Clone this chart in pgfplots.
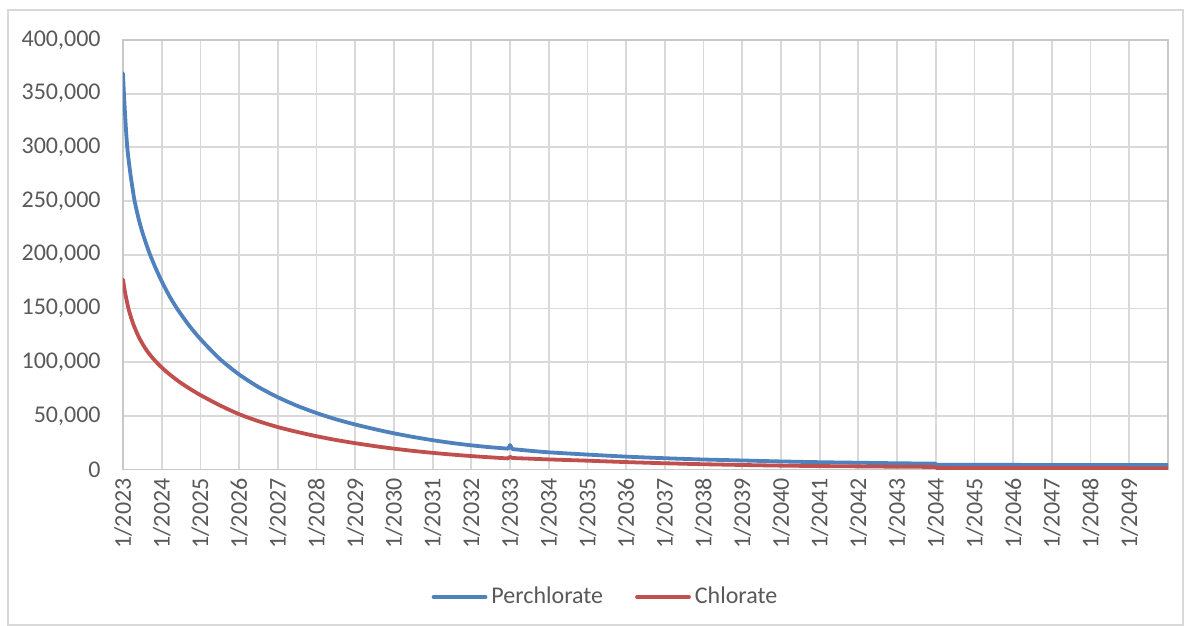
\documentclass[border=0pt]{standalone}
\usepackage{fontspec}
\setmainfont{Carlito}
\usepackage{pgfplots}
\pgfplotsset{compat=1.18}
\definecolor{perblue}{HTML}{4F81BD}
\definecolor{chlred}{HTML}{C0504D}
\definecolor{gridgray}{HTML}{D9D9D9}
\definecolor{axisgray}{HTML}{C8C8C8}
\definecolor{txtgray}{HTML}{595959}
\begin{document}
\begin{tikzpicture}
\useasboundingbox (0,0) rectangle (592.5pt,313pt);
\draw[gridgray, line width=0.8pt] (4pt,0.5pt) rectangle (591.5pt,308pt);
\begin{axis}[
  at={(61.5pt,78.25pt)}, anchor=south west,
  scale only axis, width=522.5pt, height=214.75pt,
  xmin=0, xmax=27, ymin=0, ymax=400000,
  xtick={0,...,26},
  xticklabels={1/2023,1/2024,1/2025,1/2026,1/2027,1/2028,1/2029,1/2030,1/2031,1/2032,1/2033,1/2034,1/2035,1/2036,1/2037,1/2038,1/2039,1/2040,1/2041,1/2042,1/2043,1/2044,1/2045,1/2046,1/2047,1/2048,1/2049},
  ytick={0,50000,100000,150000,200000,250000,300000,350000,400000},
  scaled y ticks=false,
  yticklabel={\pgfmathprintnumber[fixed, precision=0, 1000 sep={,}, assume math mode=true]{\tick}},
  major tick length=0pt,
  grid=major,
  major grid style={draw=gridgray, line width=0.9pt},
  axis line style={draw=axisgray, line width=0.9pt},
  tick label style={font=\fontsize{12}{14}\selectfont, text=txtgray},
  yticklabel style={anchor=east, inner sep=0pt, xshift=-11pt},
  xticklabel style={yshift=-4.25pt, rotate=90, anchor=east, inner sep=0pt},
  legend columns=2,
  legend style={at={(0.4627,-0.2969)}, anchor=center, draw=none, fill=none,
    font=\fontsize{12}{14}\selectfont, text=txtgray,
    /tikz/every even column/.append style={column sep=14pt}},
  legend image code/.code={\draw[#1] (0pt,0pt) -- (26pt,0pt);},
  every axis plot/.append style={line width=1.9pt, line join=round, line cap=round},
]
% Perchlorate, main segment
\addplot[perblue, smooth, tension=0.45] coordinates {
(0.00,369000) (0.02,353000) (0.05,333000) (0.08,315000) (0.11,300000) (0.15,287000)
(0.20,273000) (0.25,261000) (0.30,250000) (0.40,234000) (0.50,221000) (0.60,210000)
(0.70,200000) (0.85,187000) (1.00,175300) (1.20,161500) (1.40,149700) (1.70,134500)
(2.00,121500) (2.50,103000) (3.00,88500) (3.50,76800) (4.00,67300) (4.50,59300)
(5.00,52600) (5.50,46800) (6.00,41900) (6.50,37600) (7.00,33700) (7.50,30300)
(8.00,27300) (8.50,24700) (9.00,22500) (9.50,20700) (9.95,19400)
};
\addlegendentry{Perchlorate}
% Chlorate, main segment
\addplot[chlred, smooth, tension=0.45] coordinates {
(0.00,177000) (0.02,172000) (0.05,165500) (0.10,156500) (0.155,148000) (0.25,137000)
(0.35,128000) (0.45,120500) (0.60,111500) (0.72,105800) (0.84,100800) (1.00,95000)
(1.20,88700) (1.45,81800) (1.70,75800) (2.00,69300) (2.50,59800) (3.00,51500)
(3.50,45000) (4.00,39500) (4.50,35000) (5.00,31000) (5.50,27500) (6.00,24500)
(6.50,21800) (7.00,19400) (7.50,17300) (8.00,15500) (8.50,13900) (9.00,12500)
(9.50,11300) (9.95,10300)
};
\addlegendentry{Chlorate}
% Perchlorate, blip and later segments
\addplot[perblue, forget plot] coordinates {(9.95,19400) (10.00,22800) (10.06,19000)};
\addplot[perblue, smooth, tension=0.45, forget plot] coordinates {
(10.06,19000) (10.50,17500) (11.00,16000) (12.00,13900) (13.00,12000) (14.00,10500)
(15.00,9300) (16.00,8400) (17.00,7500) (18.00,6800) (19.00,6300) (20.00,5800) (20.99,5500)
};
\addplot[perblue, forget plot] coordinates {(20.99,5500) (21.01,4500)};
\addplot[perblue, smooth, tension=0.45, forget plot] coordinates {
(21.01,4500) (22.00,4400) (23.00,4300) (24.00,4200) (25.00,4150) (26.00,4100) (27.00,4050)
};
% Chlorate, blip and later segments
\addplot[chlred, forget plot] coordinates {(9.95,10300) (10.00,11800) (10.06,10700)};
\addplot[chlred, smooth, tension=0.45, forget plot] coordinates {
(10.06,10700) (10.50,10100) (11.00,9400) (12.00,8200) (13.00,6900) (14.00,5800)
(15.00,4900) (16.00,4200) (17.00,3600) (18.00,3200) (19.00,2900) (20.00,2600) (20.99,2400)
};
\addplot[chlred, forget plot] coordinates {(20.99,2400) (21.01,1500)};
\addplot[chlred, smooth, tension=0.45, forget plot] coordinates {
(21.01,1500) (22.00,1450) (23.00,1400) (24.00,1350) (25.00,1300) (26.00,1250) (27.00,1200)
};
\end{axis}
\end{tikzpicture}
\end{document}
